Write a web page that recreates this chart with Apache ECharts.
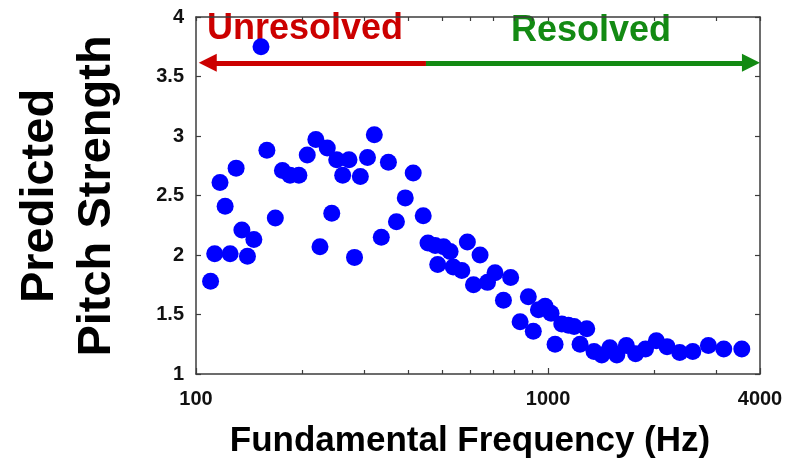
<!DOCTYPE html>
<html>
<head>
<meta charset="utf-8">
<script src="https://cdn.jsdelivr.net/npm/echarts@6/dist/echarts.min.js"></script>
<style>
  html, body { margin: 0; padding: 0; background: #ffffff; }
  #chart { width: 798px; height: 462px; }
</style>
</head>
<body>
<div id="chart"></div>
<script>
// Fundamental frequency of each stimulus (Hz)
const freqHz = [
  110, 113, 117, 121, 125, 130, 135, 140, 146, 153,
  159, 168, 176, 185, 196, 207, 219, 225, 236, 243,
  251, 261, 272, 282, 293, 307, 321, 336, 352, 371,
  393, 414, 442, 456, 478, 486, 505, 527, 538, 569,
  590, 614, 641, 673, 707, 747, 783, 833, 879, 908,
  939, 981, 1020, 1047, 1094, 1142, 1186, 1233, 1288, 1351,
  1421, 1498, 1568, 1669, 1773, 1892, 2031, 2178, 2366, 2577,
  2854, 3156, 3551
];
// Predicted pitch strength for each stimulus
const pitchStrength = [
  1.78, 2.01, 2.61, 2.41, 2.01, 2.73, 2.21, 1.99, 2.13, 3.75,
  2.88, 2.31, 2.71, 2.67, 2.67, 2.84, 2.97, 2.07, 2.90, 2.35,
  2.80, 2.67, 2.80, 1.98, 2.66, 2.82, 3.01, 2.15, 2.78, 2.28,
  2.48, 2.69, 2.33, 2.10, 2.08, 1.92, 2.07, 2.03, 1.90, 1.87,
  2.11, 1.75, 2.00, 1.77, 1.85, 1.62, 1.81, 1.44, 1.65, 1.36,
  1.54, 1.57, 1.51, 1.25, 1.42, 1.41, 1.40, 1.25, 1.38, 1.19,
  1.16, 1.22, 1.16, 1.24, 1.17, 1.21, 1.28, 1.23, 1.18, 1.19,
  1.24, 1.21, 1.21
];

// Axis ranges and ticks
const xRange = [100, 4000];
const xMajorTicks = [100, 1000, 4000];
const xMinorTicks = [200, 300, 400, 500, 600, 700, 800, 900, 2000, 3000];
const yRange = [1, 4];
const yStep = 0.5;

// Region arrows: unresolved (left) and resolved (right) harmonics
const arrowLevel = 3.615;
const unresolvedSpan = [108, 450];
const resolvedSpan = [450, 3770];

const FONT = '"Liberation Sans", Arial, Helvetica, sans-serif';
const AXIS_COLOR = '#3c3c3c';
const RED = '#cc0000';
const GREEN = '#138a13';
const lg = Math.log10;

const points = freqHz.map((f, i) => [f, pitchStrength[i]]);

const chart = echarts.init(document.getElementById('chart'), null, { renderer: 'canvas' });

const axisLine = { show: true, lineStyle: { color: AXIS_COLOR, width: 1.5 } };

chart.setOption({
  animation: false,
  backgroundColor: '#ffffff',
  grid: { left: 196, right: 38, top: 17, bottom: 88, containLabel: false },
  xAxis: [
    {
      // data axis (log scale)
      type: 'log', logBase: 10, min: xRange[0], max: xRange[1], position: 'bottom',
      axisLine: axisLine,
      axisTick: { show: true, inside: true, length: 6, lineStyle: { color: AXIS_COLOR, width: 1.2 } },
      minorTick: { show: false },
      splitLine: { show: false },
      axisLabel: {
        margin: 15, color: '#111', fontFamily: FONT, fontWeight: 'bold', fontSize: 20,
        formatter: v => String(Math.round(v))
      }
    },
    {
      // minor ticks along the bottom edge
      type: 'value', min: lg(xRange[0]), max: lg(xRange[1]), position: 'bottom',
      axisLine: { show: false },
      axisTick: { show: true, inside: true, length: 4, customValues: xMinorTicks.map(lg),
                  lineStyle: { color: AXIS_COLOR, width: 1.2 } },
      axisLabel: { show: false },
      splitLine: { show: false }
    },
    {
      // top frame edge with its ticks
      type: 'value', min: lg(xRange[0]), max: lg(xRange[1]), position: 'top',
      axisLine: axisLine,
      axisTick: { show: true, inside: true, length: 4,
                  customValues: xMajorTicks.concat(xMinorTicks).map(lg),
                  lineStyle: { color: AXIS_COLOR, width: 1.2 } },
      axisLabel: { show: false },
      splitLine: { show: false }
    }
  ],
  yAxis: [
    {
      type: 'value', min: yRange[0], max: yRange[1], interval: yStep, position: 'left',
      axisLine: axisLine,
      axisTick: { show: true, inside: true, length: 5, lineStyle: { color: AXIS_COLOR, width: 1.2 } },
      splitLine: { show: false },
      axisLabel: { margin: 12, color: '#111', fontFamily: FONT, fontWeight: 'bold', fontSize: 20 }
    },
    {
      type: 'value', min: yRange[0], max: yRange[1], interval: yStep, position: 'right',
      axisLine: axisLine,
      axisTick: { show: true, inside: true, length: 5, lineStyle: { color: AXIS_COLOR, width: 1.2 } },
      splitLine: { show: false },
      axisLabel: { show: false }
    }
  ],
  series: [
    {
      type: 'scatter',
      xAxisIndex: 0, yAxisIndex: 0,
      data: points,
      symbol: 'circle',
      symbolSize: 17,
      itemStyle: { color: '#0000ff', opacity: 1 },
      silent: true,
      markLine: {
        silent: true,
        animation: false,
        label: { show: false },
        emphasis: { disabled: true },
        data: [
          [
            { coord: [unresolvedSpan[0], arrowLevel], symbol: 'triangle', symbolSize: 18,
              lineStyle: { color: RED, width: 5, type: 'solid' }, itemStyle: { color: RED } },
            { coord: [unresolvedSpan[1], arrowLevel], symbol: 'none' }
          ],
          [
            { coord: [resolvedSpan[0], arrowLevel], symbol: 'none',
              lineStyle: { color: GREEN, width: 5, type: 'solid' }, itemStyle: { color: GREEN } },
            { coord: [resolvedSpan[1], arrowLevel], symbol: 'triangle', symbolSize: 18 }
          ]
        ]
      }
    }
  ],
  graphic: [
    { type: 'text', x: 305, y: 29, style: { text: 'Unresolved', fill: RED, font: 'bold 36px ' + FONT, align: 'center', verticalAlign: 'middle' } },
    { type: 'text', x: 591, y: 31, style: { text: 'Resolved', fill: GREEN, font: 'bold 36px ' + FONT, align: 'center', verticalAlign: 'middle' } },
    { type: 'text', x: 40, y: 196, rotation: Math.PI / 2, style: { text: 'Predicted', fill: '#000', font: 'bold 47px ' + FONT, align: 'center', verticalAlign: 'middle' } },
    { type: 'text', x: 97, y: 196, rotation: Math.PI / 2, style: { text: 'Pitch Strength', fill: '#000', font: 'bold 47px ' + FONT, align: 'center', verticalAlign: 'middle' } },
    { type: 'text', x: 470, y: 441, style: { text: 'Fundamental Frequency (Hz)', fill: '#000', font: 'bold 35px ' + FONT, align: 'center', verticalAlign: 'middle' } }
  ]
});
</script>
</body>
</html>
